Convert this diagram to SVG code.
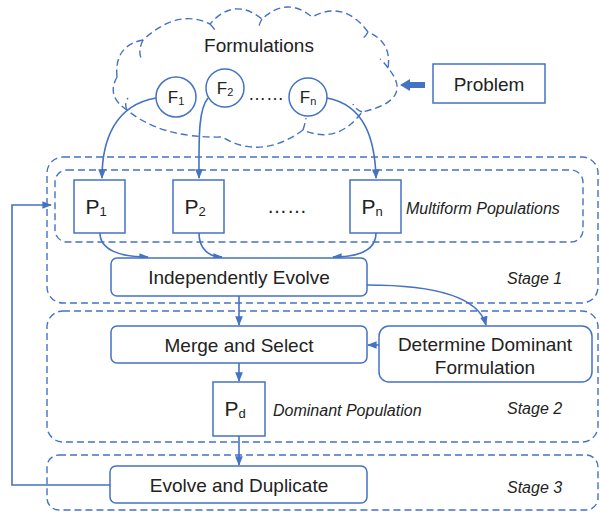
<svg xmlns="http://www.w3.org/2000/svg" width="600" height="515" viewBox="0 0 600 515">
<defs>
<style>
.t{font-family:"Liberation Sans",Arial,sans-serif;fill:#222;text-anchor:middle;dominant-baseline:central}
.i{font-family:"Liberation Sans",Arial,sans-serif;fill:#222;font-style:italic;font-size:16px;dominant-baseline:central}
.box{fill:#fff;stroke:#4472C4;stroke-width:1.5}
.dash{fill:none;stroke:#4472C4;stroke-width:1.4;stroke-dasharray:7 4}
.c{fill:none;stroke:#4472C4;stroke-width:1.6}
</style>
<marker id="a" viewBox="0 0 10 10" refX="9" refY="5" markerWidth="6" markerHeight="6" orient="auto"><path d="M0,1 L10,5 L0,9 Z" fill="#4472C4"/></marker>
</defs>
<rect width="600" height="515" fill="#fff"/>
<g id="cloud">
<path class="dash" d="M117,77 Q114,45.5 143,40 Q177.5,8 210,24 Q234,-3.5 262,19 Q287,-4 312,17 Q344,-0.5 368,32 Q392,42 388,68 Q415,100 362,112 Q337.5,145 303,130 Q261.5,160.5 222,137 Q161.5,138.5 127,110 Q106,96.5 117,77 Z"/>
<path class="dash" d="M143,40 Q138,50 141,58 M210,24 Q214,28 216,32 M262,19 Q259,24 259,27 M368,32 Q366,36 363,38 M388,68 Q384,62 380,59 M362,112 Q356,110 353,104 M303,130 Q305,124 306,118 M127,110 Q124,104 128,98"/>
<text class="t" x="259" y="45" font-size="19">Formulations</text>
</g>
<g id="stage1">
<rect class="dash" x="47" y="157" width="551" height="146" rx="16"/>
<text class="i" x="507" y="278">Stage 1</text>
</g>
<g id="multiform">
<rect class="dash" x="55" y="170" width="528" height="72" rx="12"/>
<text class="i" x="406" y="208">Multiform Populations</text>
<text class="t" x="287" y="206" font-size="20">……</text>
</g>
<g id="stage2">
<rect class="dash" x="47" y="311" width="551" height="131" rx="16"/>
<text class="i" x="507" y="408">Stage 2</text>
</g>
<g id="stage3">
<rect class="dash" x="47" y="455" width="551" height="55" rx="12"/>
<text class="i" x="507" y="487">Stage 3</text>
</g>
<g id="connectors">
<path class="c" d="M156,98 C115,105 102,140 102,178" marker-end="url(#a)"/>
<path class="c" d="M208,98 C198,110 199,140 199,178" marker-end="url(#a)"/>
<path class="c" d="M327,98 C365,105 375,140 376,178" marker-end="url(#a)"/>
<path class="c" d="M100,233 C100,250 120,257 148,257" marker-end="url(#a)"/>
<path class="c" d="M199,233 C199,250 210,257 222,257" marker-end="url(#a)"/>
<path class="c" d="M376,233 C376,250 360,257 333,257" marker-end="url(#a)"/>
<path class="c" d="M239,296 L239,325" marker-end="url(#a)"/>
<path class="c" d="M367,285 C430,285 478,295 486,325" marker-end="url(#a)"/>
<path class="c" d="M379,345 L368,345" marker-end="url(#a)"/>
<path class="c" d="M239,363 L239,381" marker-end="url(#a)"/>
<path class="c" d="M239,436 L239,465" marker-end="url(#a)"/>
<path class="c" d="M110,485 L12,485 L12,205 L51,205" marker-end="url(#a)"/>
<path d="M425,82 L410,82 L410,79 L400,85 L410,91 L410,88 L425,88 Z" fill="#4472C4"/>
</g>
<g id="F1"><circle class="box" cx="176" cy="97" r="20"/><text class="t" x="176" y="97" font-size="17">F<tspan font-size="11" dy="4">1</tspan></text></g>
<g id="F2"><circle class="box" cx="225" cy="88" r="19"/><text class="t" x="225" y="88" font-size="17">F<tspan font-size="11" dy="4">2</tspan></text></g>
<g id="Fdots"><text class="t" x="266" y="94" font-size="18">……</text></g>
<g id="Fn"><circle class="box" cx="308" cy="97" r="19"/><text class="t" x="308" y="97" font-size="17">F<tspan font-size="11" dy="4">n</tspan></text></g>
<g id="problem"><rect class="box" x="433" y="64" width="112" height="39"/><text class="t" x="489" y="84" font-size="19">Problem</text></g>
<g id="P1"><rect class="box" x="74" y="180" width="51" height="53"/><text class="t" x="96" y="206" font-size="21">P<tspan font-size="13" dy="5">1</tspan></text></g>
<g id="P2"><rect class="box" x="173" y="180" width="51" height="53"/><text class="t" x="195" y="206" font-size="21">P<tspan font-size="13" dy="5">2</tspan></text></g>
<g id="Pn"><rect class="box" x="350" y="180" width="51" height="53"/><text class="t" x="372" y="206" font-size="21">P<tspan font-size="13" dy="5">n</tspan></text></g>
<g id="IE"><rect class="box" x="111" y="258" width="256" height="38" rx="6"/><text class="t" x="239" y="277" font-size="19">Independently Evolve</text></g>
<g id="MS"><rect class="box" x="111" y="326" width="256" height="37" rx="6"/><text class="t" x="239" y="345" font-size="19">Merge and Select</text></g>
<g id="DDF"><rect class="box" x="379" y="326" width="213" height="56" rx="10"/><text class="t" x="485" y="344" font-size="19">Determine Dominant</text><text class="t" x="485" y="367" font-size="19">Formulation</text></g>
<g id="Pd"><rect class="box" x="213" y="382" width="52" height="54"/><text class="t" x="235" y="408" font-size="21">P<tspan font-size="13" dy="5">d</tspan></text></g>
<g id="DP"><text class="i" x="273" y="410">Dominant Population</text></g>
<g id="ED"><rect class="box" x="110" y="466" width="257" height="37" rx="6"/><text class="t" x="239" y="485" font-size="19">Evolve and Duplicate</text></g>
</svg>
